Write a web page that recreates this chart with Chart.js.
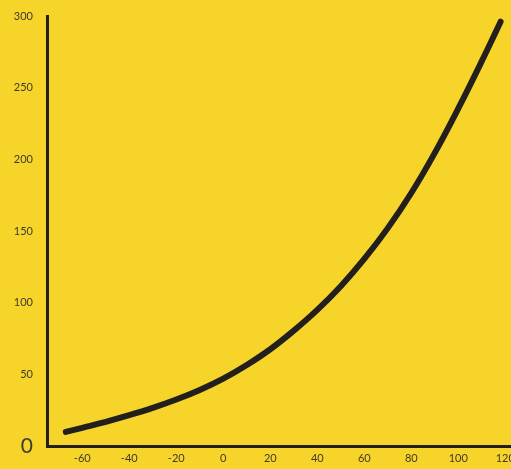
<!DOCTYPE html>
<html>
<head>
<meta charset="utf-8">
<script src="https://cdn.jsdelivr.net/npm/chart.js@4"></script>
<style>
  html, body { margin: 0; padding: 0; overflow: hidden; background: #F7D42A; }
  #wrap { position: absolute; left: 0; top: 0; width: 530px; height: 469px; }
</style>
</head>
<body>
<div id="wrap"><canvas id="chart"></canvas></div>
<script>
// --- DATA ---
const xValues = [-67, -60, -50, -40, -30, -20, -10, 0, 10, 20, 30, 40, 50, 60, 70, 80, 90, 100, 110, 118];
const yValues = [9.8, 12.7, 16.9, 21.5, 26.6, 32.4, 39.1, 47, 56.5, 67.5, 80.5, 95, 111.5, 130.5, 152, 176.5, 204.5, 235.5, 268.5, 296];
const xTicks = [-60, -40, -20, 0, 20, 40, 60, 80, 100, 120];
const yTicks = [0, 50, 100, 150, 200, 250, 300];

const ink = '#221f1c';
const labelColor = '#3e3a2a';

const points = xValues.map((x, i) => ({ x: x, y: yValues[i] }));

new Chart(document.getElementById('chart'), {
    type: 'line',
    data: {
        datasets: [{
            data: points,
            borderColor: ink,
            borderWidth: 6,
            borderCapStyle: 'round',
            borderJoinStyle: 'round',
            pointRadius: 0,
            tension: 0.4,
            fill: false
        }]
    },
    options: {
        responsive: true,
        maintainAspectRatio: false,
        animation: false,
        layout: { padding: { top: 16, right: 20, left: 0, bottom: 0 } },
        plugins: { legend: { display: false }, tooltip: { enabled: false } },
        scales: {
            x: {
                type: 'linear',
                min: -75,
                max: 122,
                afterBuildTicks: (scale) => { scale.ticks = xTicks.map(v => ({ value: v })); },
                afterFit: (scale) => { scale.height = 23; scale.paddingLeft = 0; scale.paddingRight = 0; },
                grid: { display: false, drawTicks: false },
                border: { display: true, color: ink, width: 3 },
                ticks: {
                    padding: 6,
                    color: labelColor,
                    maxRotation: 0,
                    autoSkip: false,
                    font: { family: 'Lato', size: 11 }
                }
            },
            y: {
                min: 0,
                max: 300,
                afterBuildTicks: (scale) => { scale.ticks = yTicks.map(v => ({ value: v })); },
                afterFit: (scale) => { scale.width = 47; scale.paddingTop = 0; scale.paddingBottom = 0; },
                grid: { display: false, drawTicks: false },
                border: { display: true, color: ink, width: 3 },
                ticks: {
                    padding: 14,
                    color: labelColor,
                    font: (ctx) => ctx.tick && ctx.tick.value === 0
                        ? { family: 'Lato', size: 21 }
                        : { family: 'Lato', size: 11 }
                }
            }
        }
    }
});
</script>
</body>
</html>
